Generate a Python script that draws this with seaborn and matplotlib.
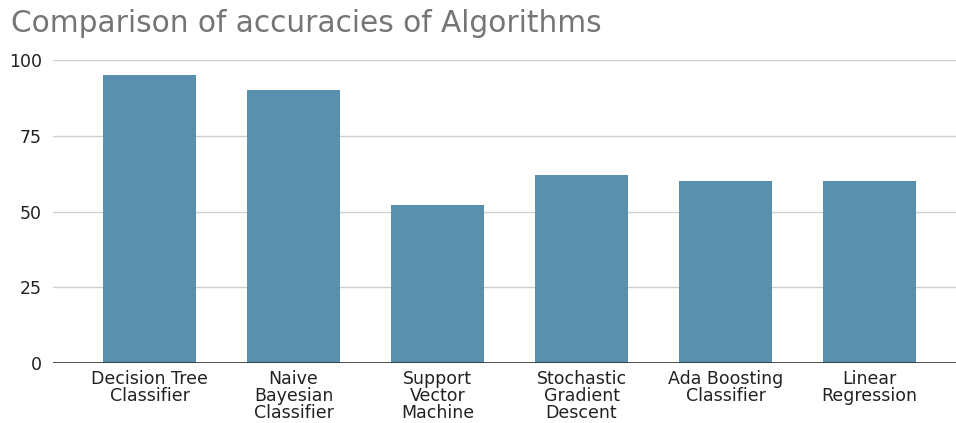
import matplotlib
matplotlib.use("Agg")
import matplotlib.pyplot as plt
import pandas as pd
import seaborn as sns

algorithms = [
    "Decision Tree\nClassifier",
    "Naive\nBayesian\nClassifier",
    "Support\nVector\nMachine",
    "Stochastic\nGradient\nDescent",
    "Ada Boosting\nClassifier",
    "Linear\nRegression",
]
accuracy = [95, 90, 52, 62, 60, 60]
y_ticks = [0, 25, 50, 75, 100]

df = pd.DataFrame({"algorithm": algorithms, "accuracy": accuracy})

sns.set_style("white")
plt.rcParams["font.family"] = ["DejaVu Sans"]

fig = plt.figure(figsize=(9.56, 4.23), dpi=100)
ax = fig.add_axes([0.0554, 0.1418, 0.9446, 0.7162])

sns.barplot(data=df, x="algorithm", y="accuracy", color="#5890ad",
            saturation=1, width=0.65, linewidth=0, ax=ax, zorder=3)

ax.set_ylim(0, 100)
ax.set_xlim(-0.67, 5.6)
ax.set_yticks(y_ticks)
ax.yaxis.grid(True, color="#d0d0d0", linewidth=1, zorder=0)
ax.axhline(0, color="#333333", linewidth=1.2, zorder=4)
for s in ax.spines.values():
    s.set_visible(False)

ax.set_xlabel("")
ax.set_ylabel("")
ax.tick_params(axis="x", length=0, pad=5, labelsize=12.5, labelcolor="#222222")
ax.tick_params(axis="y", length=0, pad=8, labelsize=12.5, labelcolor="#222222")
for lbl in ax.get_xticklabels():
    lbl.set_linespacing(0.93)

fig.text(0.011, 0.925, "Comparison of accuracies of Algorithms",
         fontsize=21.3, color="#757575", ha="left", va="baseline")

fig.savefig("out.png", dpi=100)
